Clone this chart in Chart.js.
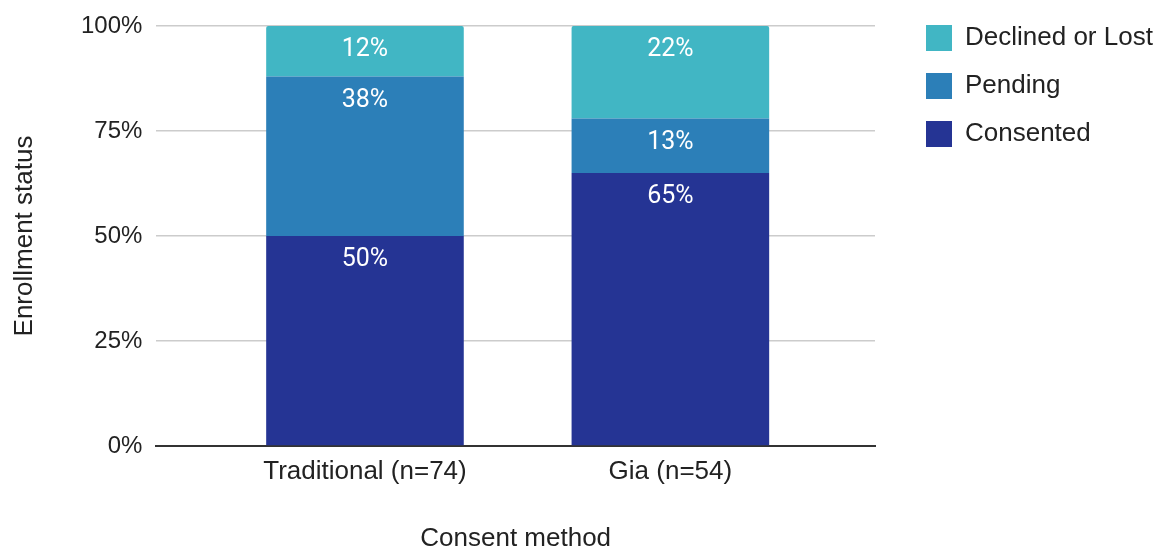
<!DOCTYPE html>
<html>
<head>
<meta charset="utf-8">
<script src="https://cdn.jsdelivr.net/npm/chart.js@4.4.1/dist/chart.umd.min.js"></script>
<style>
  html, body { margin: 0; padding: 0; background: #fff; }
  #wrap { width: 1164px; height: 548px; position: relative; }
</style>
</head>
<body>
<div id="wrap"><canvas id="chart"></canvas></div>
<script>
// categories and series (percent of each consent method)
const categories = ["Traditional (n=74)", "Gia (n=54)"];
const consented = [50, 65];
const pending = [38, 13];
const declined = [12, 22];
const yTicks = [0, 25, 50, 75, 100];

const SANS = "'Liberation Sans', Arial, Helvetica, sans-serif";
const toPoints = (arr) => arr.map((v, i) => ({ x: i, y: v }));

// white % labels near the top of each segment
const segmentLabels = {
  id: "segmentLabels",
  afterDatasetsDraw(chart) {
    const { ctx } = chart;
    ctx.save();
    ctx.fillStyle = "#ffffff";
    ctx.font = "25px Roboto, sans-serif";
    ctx.textAlign = "center";
    ctx.textBaseline = "middle";
    chart.data.datasets.forEach((ds, i) => {
      const meta = chart.getDatasetMeta(i);
      meta.data.forEach((bar, j) => {
        const v = ds.data[j].y;
        ctx.fillText(v + "%", bar.x, bar.y + 24);
      });
    });
    ctx.restore();
  },
};

// legend sits a bit further from the plot than chart.js puts it
const LEGEND_W = 289;
const LEGEND_GAP = 29;
const legendNudge = {
  id: "legendNudge",
  beforeLayout(chart) {
    const lg = chart.legend;
    if (!lg || lg._nudged) return;
    const fit = lg.fit;
    lg.fit = function () {
      fit.call(this);
      this.width = LEGEND_W;
    };
    lg._nudged = true;
  },
  afterLayout(chart) {
    const lg = chart.legend;
    if (!lg) return;
    lg.left += LEGEND_GAP;
    lg.right += LEGEND_GAP;
    lg.top -= 8;
    lg.bottom -= 8;
  },
};

const shared = {
  categoryPercentage: 1,
  barPercentage: 0.647,
  borderWidth: 0,
};

new Chart(document.getElementById("chart"), {
  type: "bar",
  data: {
    datasets: [
      { ...shared, label: "Consented", data: toPoints(consented), backgroundColor: "#253494" },
      { ...shared, label: "Pending", data: toPoints(pending), backgroundColor: "#2c7fb8" },
      {
        ...shared,
        label: "Declined or Lost",
        data: toPoints(declined),
        backgroundColor: "#41b6c4",
        borderRadius: { topLeft: 2, topRight: 2, bottomLeft: 0, bottomRight: 0 },
        borderSkipped: false,
      },
    ],
  },
  options: {
    responsive: true,
    maintainAspectRatio: false,
    animation: false,
    layout: { padding: { top: 11, right: 0, bottom: -4, left: 0 } },
    plugins: {
      tooltip: { enabled: false },
      legend: {
        position: "right",
        align: "start",
        reverse: true,
        labels: {
          boxWidth: 26,
          boxHeight: 26,
          padding: 22,
          color: "#222",
          font: { size: 26, family: SANS },
        },
      },
    },
    scales: {
      x: {
        type: "linear",
        stacked: true,
        min: -0.683,
        max: 1.67,
        offset: false,
        afterBuildTicks: (scale) => {
          scale.ticks = categories.map((_, i) => ({ value: i }));
        },
        grid: { display: false, drawTicks: false },
        border: { display: true, color: "#333", width: 2 },
        ticks: {
          padding: 13,
          color: "#222",
          font: { size: 26, family: SANS, lineHeight: 1 },
          callback: (v) => categories[v] ?? "",
        },
        title: {
          display: true,
          text: "Consent method",
          color: "#222",
          padding: { top: 28, bottom: 0 },
          font: { size: 26, family: SANS, lineHeight: 1 },
        },
      },
      y: {
        stacked: true,
        min: 0,
        max: 100,
        afterBuildTicks: (scale) => {
          scale.ticks = yTicks.map((v) => ({ value: v }));
        },
        grid: {
          drawTicks: false,
          color: (c) => (c.tick && c.tick.value === 0 ? "rgba(0,0,0,0)" : "#cccccc"),
          lineWidth: 1.5,
        },
        border: { display: false },
        ticks: {
          padding: 14,
          color: "#222",
          font: { size: 24, family: SANS, lineHeight: 1 },
          callback: (v) => v + "%",
        },
        title: {
          display: true,
          text: "Enrollment status",
          color: "#222",
          padding: { top: 12, bottom: 29 },
          font: { size: 26, family: SANS, lineHeight: 1 },
        },
      },
    },
  },
  plugins: [segmentLabels, legendNudge],
});
</script>
</body>
</html>
